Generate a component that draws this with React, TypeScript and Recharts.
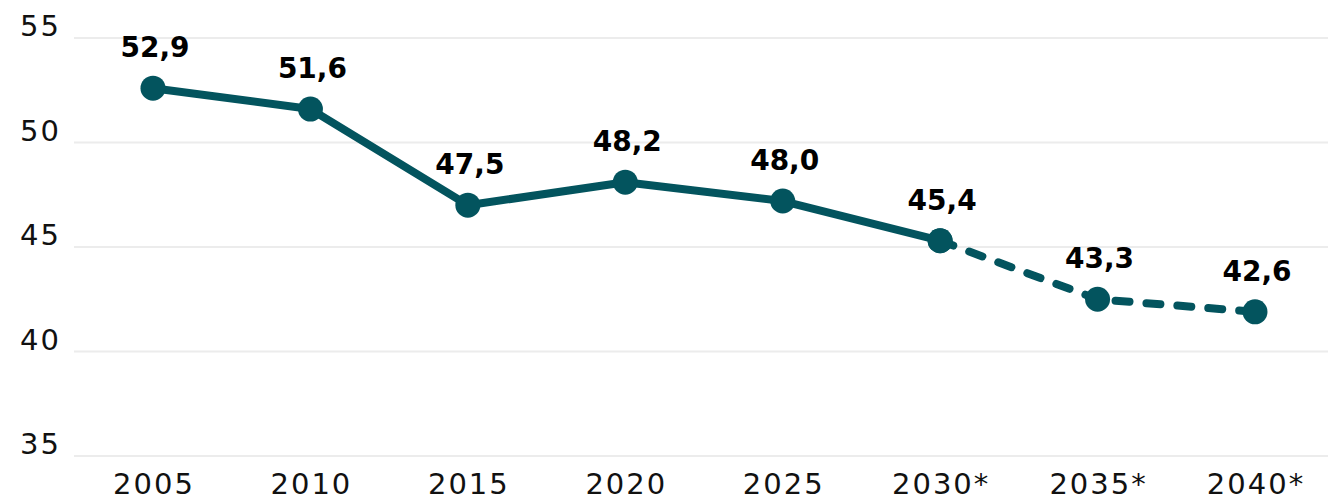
import React from "react";
import { LineChart, Line, XAxis, YAxis, CartesianGrid, LabelList } from "recharts";

const years = ["2005", "2010", "2015", "2020", "2025", "2030*", "2035*", "2040*"];
const values = [52.6, 51.6, 47.0, 48.1, 47.2, 45.3, 42.5, 41.9];
const labels = ["52,9", "51,6", "47,5", "48,2", "48,0", "45,4", "43,3", "42,6"];
const lastActualIndex = 5;
const yTicks = [35, 40, 45, 50, 55];

const COLOR = "#03545E";
const FONT = "'DejaVu Sans', sans-serif";

const data = years.map((year, i) => ({
  year,
  value: values[i],
  solid: i <= lastActualIndex ? values[i] : null,
  forecast: i >= lastActualIndex ? values[i] : null,
  label: labels[i],
}));

const YTick = (props: any) => {
  const { y, payload } = props;
  return (
    <text x={20} y={y - 10} dominantBaseline="middle" textAnchor="start" fontFamily={FONT} fontSize={29} letterSpacing={2} fill="#111">
      {payload.value}
    </text>
  );
};

const XTick = (props: any) => {
  const { x, y, payload } = props;
  return (
    <text x={x + 1} y={y + 30} textAnchor="middle" fontFamily={FONT} fontSize={29} letterSpacing={2} fill="#111">
      {payload.value}
    </text>
  );
};

const ValueLabel = (props: any) => {
  const { x, y, value } = props;
  if (value == null || x == null || y == null) return null;
  return (
    <text x={x + 2} y={y - 31} textAnchor="middle" fontFamily={FONT} fontWeight={700} fontSize={28} fill="#000">
      {value}
    </text>
  );
};

export default function App() {
  return (
    <div style={{ position: "absolute", left: 0, top: 0, width: 1328, height: 503, overflow: "hidden", background: "#fff" }}>
      <LineChart width={1336} height={503} data={data} margin={{ top: 38, right: 2, left: 0, bottom: 0 }}>
        <CartesianGrid vertical={false} stroke="#ececec" strokeWidth={2} />
        <XAxis
          dataKey="year"
          axisLine={false}
          tickLine={false}
          tick={<XTick />}
          height={47}
          interval={0}
          padding={{ left: 79, right: 79 }}
        />
        <YAxis
          domain={[35, 55]}
          ticks={yTicks}
          axisLine={false}
          tickLine={false}
          tick={<YTick />}
          width={74}
        />
        <Line
          dataKey="forecast"
          stroke={COLOR}
          strokeWidth={8}
          strokeDasharray="14 17"
          strokeLinecap="round"
          dot={{ r: 12.5, fill: COLOR, stroke: "none" }}
          activeDot={false}
          isAnimationActive={false}
          connectNulls={false}
        />
        <Line
          dataKey="solid"
          stroke={COLOR}
          strokeWidth={8}
          strokeLinejoin="round"
          dot={{ r: 12.5, fill: COLOR, stroke: "none" }}
          activeDot={false}
          isAnimationActive={false}
          connectNulls={false}
        />
        <Line dataKey="value" stroke="none" dot={false} activeDot={false} isAnimationActive={false}>
          <LabelList dataKey="label" content={<ValueLabel />} />
        </Line>
      </LineChart>
    </div>
  );
}
